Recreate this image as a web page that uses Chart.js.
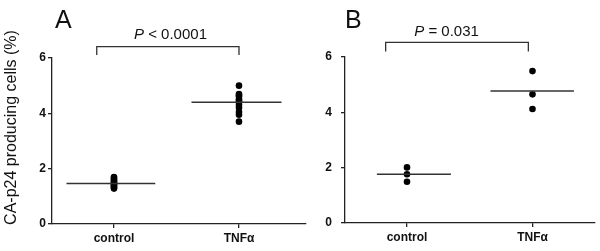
<!DOCTYPE html>
<html>
<head>
<meta charset="utf-8">
<script src="https://cdn.jsdelivr.net/npm/chart.js@4.4.0/dist/chart.umd.min.js"></script>
<style>
  html, body { margin: 0; padding: 0; background: #fff; }
  #wrap { position: relative; width: 600px; height: 251px; }
  .panel { position: absolute; top: 0; height: 251px; }
</style>
</head>
<body>
<div id="wrap">
  <div class="panel" style="left:0;width:310px"><canvas id="chartA"></canvas></div>
  <div class="panel" style="left:300px;width:300px"><canvas id="chartB"></canvas></div>
</div>
<script>
const groups = ["control", "TNFα"];
const yTicks = [0, 2, 4, 6];

// panel A
const controlA = [1.28, 1.32, 1.36, 1.4, 1.44, 1.48, 1.52, 1.56, 1.6, 1.65, 1.7];
const tnfA = [3.7, 3.95, 4.05, 4.2, 4.3, 4.4, 4.45, 4.5, 4.6, 4.65, 4.7, 5.0];
const meansA = [1.46, 4.40];
const pTextA = "P < 0.0001";

// panel B
const controlB = [1.49, 1.76, 2.01];
const tnfB = [4.12, 4.65, 5.49];
const meansB = [1.76, 4.77];
const pTextB = "P = 0.031";

const FONT = "'Liberation Sans', Arial, Helvetica, sans-serif";
const INK = "#222";

const decorPlugin = {
  id: "decor",
  afterDraw(chart) {
    const o = chart.options.plugins.decor;
    const ctx = chart.ctx;
    const xs = chart.scales.x, ys = chart.scales.y;
    ctx.save();
    ctx.fillStyle = "#111";
    // panel letter
    ctx.font = "25px " + FONT;
    ctx.textBaseline = "alphabetic";
    ctx.textAlign = "left";
    ctx.fillText(o.letter, o.letterX, 28);
    // P value text, italic P
    ctx.font = "italic 15px " + FONT;
    const wP = ctx.measureText("P").width;
    ctx.font = "15px " + FONT;
    const rest = o.pText.slice(1);
    const wR = ctx.measureText(rest).width;
    const cx = xs.getPixelForValue(o.pX);
    const cy = ys.getPixelForValue(o.pY);
    let x0 = cx - (wP + wR) / 2;
    ctx.textBaseline = "middle";
    ctx.font = "italic 15px " + FONT;
    ctx.fillText("P", x0, cy);
    ctx.font = "15px " + FONT;
    ctx.fillText(rest, x0 + wP, cy);
    // y axis title
    if (o.yTitle) {
      ctx.translate(12, 127.5);
      ctx.rotate(-Math.PI / 2);
      ctx.textAlign = "center";
      ctx.font = "16px " + FONT;
      ctx.fillText(o.yTitle, 0, 0);
    }
    ctx.restore();
  }
};

function makePanel(id, ctrl, tnf, means, cfg) {
  const pts = ctrl.map(v => ({x: 1, y: v})).concat(tnf.map(v => ({x: 2, y: v})));
  const meanSets = means.map((m, i) => ({
    data: [{x: i + 1 - cfg.meanL[i], y: m}, {x: i + 1 + cfg.meanR[i], y: m}],
    showLine: true, borderColor: "#333", borderWidth: 1.5, pointRadius: 0
  }));
  const b = cfg.bracket;
  const bracketSet = {
    data: [{x: b[0], y: b[2]}, {x: b[0], y: b[3]}, {x: b[1], y: b[3]}, {x: b[1], y: b[2]}],
    showLine: true, borderColor: "#333", borderWidth: 1.3, pointRadius: 0, clip: false
  };
  return new Chart(document.getElementById(id), {
    type: "scatter",
    data: {
      datasets: [
        ...meanSets,
        bracketSet,
        {data: pts, pointRadius: 3.3, pointBackgroundColor: "#000", pointBorderWidth: 0}
      ]
    },
    options: {
      responsive: true,
      maintainAspectRatio: false,
      animation: false,
      layout: {padding: {top: cfg.top, right: cfg.right, left: 0, bottom: 0}},
      plugins: {
        legend: {display: false},
        tooltip: {enabled: false},
        decor: {letter: cfg.letter, letterX: cfg.letterX, pText: cfg.pText,
                pX: cfg.pX, pY: cfg.pY, yTitle: cfg.yTitle}
      },
      scales: {
        x: {
          type: "linear", min: cfg.xMin, max: cfg.xMax,
          afterBuildTicks: s => { s.ticks = [{value: 1}, {value: 2}]; },
          afterFit: s => { s.height = cfg.xHeight; },
          border: {display: true, color: INK, width: 1.3},
          grid: {display: true, drawOnChartArea: false, drawTicks: true, tickLength: 4, color: INK, lineWidth: 1.3},
          ticks: {
            callback: v => groups[v - 1],
            color: "#111", padding: 3, maxRotation: 0,
            font: {family: FONT, size: 12, weight: "bold"}
          }
        },
        y: {
          min: 0, max: 6,
          afterBuildTicks: s => { s.ticks = yTicks.map(v => ({value: v})); },
          afterFit: s => { s.width = cfg.yWidth; },
          border: {display: true, color: INK, width: 1.3},
          grid: {display: true, drawOnChartArea: false, drawTicks: true, tickLength: 4, color: INK, lineWidth: 1.3},
          ticks: {
            color: "#111", padding: cfg.yPad,
            font: {family: FONT, size: 12, weight: "bold"}
          }
        }
      }
    },
    plugins: [decorPlugin]
  });
}

makePanel("chartA", controlA, tnfA, meansA, {
  letter: "A", letterX: 55, pText: pTextA, pX: 1.452, pY: 6.83,
  yTitle: "CA-p24 producing cells (%)",
  meanL: [0.38, 0.38], meanR: [0.33, 0.34],
  bracket: [0.862, 2.0, 6.11, 6.41],
  xMin: 0.504, xMax: 2.536, top: 58, right: 4, xHeight: 27, yWidth: 52, yPad: 2
});

makePanel("chartB", controlB, tnfB, meansB, {
  letter: "B", letterX: 45, pText: pTextB, pX: 1.315, pY: 6.92,
  yTitle: null,
  meanL: [0.24, 0.335], meanR: [0.35, 0.33],
  bracket: [0.83, 1.967, 6.2, 6.53],
  xMin: 0.506, xMax: 2.498, top: 57, right: 5, xHeight: 28, yWidth: 45, yPad: 9
});
</script>
</body>
</html>
